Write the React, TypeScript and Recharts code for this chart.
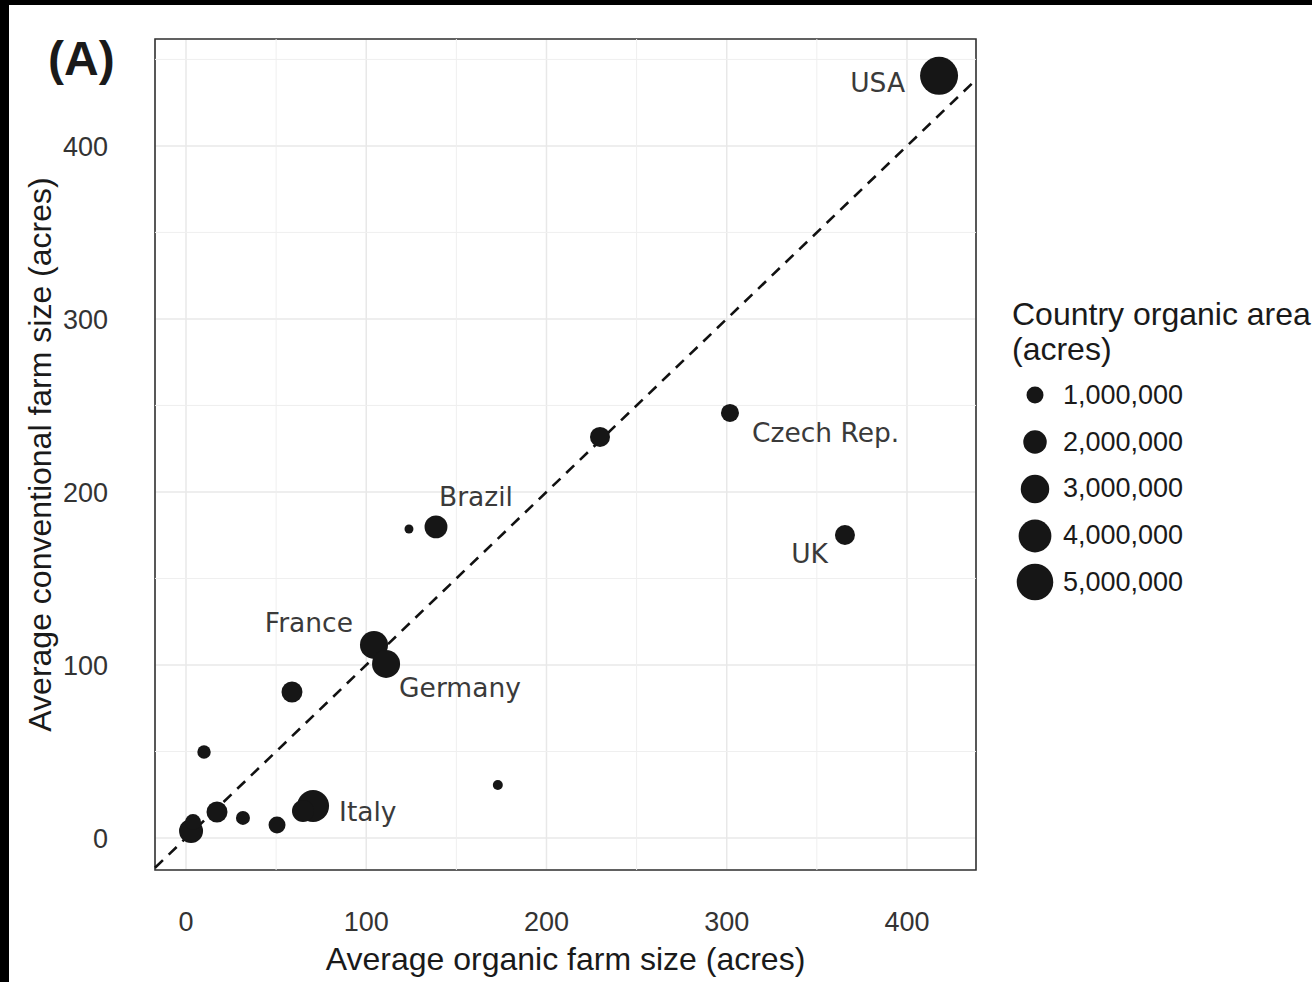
import React from 'react';
import {
  CartesianGrid,
  Legend,
  ReferenceArea,
  ReferenceLine,
  Scatter,
  ScatterChart,
  XAxis,
  YAxis,
  ZAxis
} from 'recharts';

// values
const countries = ['USA', 'Czech Rep.', '', 'UK', 'Brazil', '', 'France', 'Germany', '', '', '', 'Italy', '', '', '', '', '', ''];
const organicSize = [417.8, 301.8, 229.7, 365.6, 138.7, 123.7, 104.3, 111.0, 58.8, 10.0, 173.0, 70.5, 64.9, 17.2, 31.6, 50.5, 2.8, 3.9];
const conventionalSize = [440.5, 245.7, 231.8, 175.1, 179.8, 178.6, 111.6, 100.6, 84.4, 49.7, 30.6, 18.5, 15.6, 15.0, 11.6, 7.5, 4.0, 9.2];
const organicArea = [
  5410000, 1140000, 1430000, 1430000, 1900000, 210000, 2900000, 2900000, 1580000,
  590000, 280000, 3800000, 1750000, 1580000, 650000, 1000000, 2100000, 880000
];

const xTicks = [0, 100, 200, 300, 400];
const yTicks = [0, 100, 200, 300, 400];
const xMinor = [50, 150, 250, 350];
const yMinor = [50, 150, 250, 350, 450];
const legendAreas = [1000000, 2000000, 3000000, 4000000, 5000000];

const X_DOMAIN: [number, number] = [-17.2, 438.3];
const Y_DOMAIN: [number, number] = [-18.5, 461.8];
const Z_DOMAIN: [number, number] = [0, 5500000];
const Z_RANGE: [number, number] = [20, 1153];

const points = organicSize.map((x, i) => ({
  x,
  y: conventionalSize[i],
  area: organicArea[i],
  country: countries[i]
}));

// where each country name sits relative to its point
const labelPlacement: Record<string, { dx: number; dy: number; anchor: 'start' | 'middle' | 'end' }> = {
  USA: { dx: -34, dy: 7, anchor: 'end' },
  'Czech Rep.': { dx: 22, dy: 20, anchor: 'start' },
  UK: { dx: -17, dy: 18, anchor: 'end' },
  Brazil: { dx: 40, dy: -30, anchor: 'middle' },
  France: { dx: -21, dy: -22, anchor: 'end' },
  Germany: { dx: 13, dy: 24, anchor: 'start' },
  Italy: { dx: 26, dy: 6, anchor: 'start' }
};

const diagStart = Math.max(X_DOMAIN[0], Y_DOMAIN[0]);
const diagEnd = Math.min(X_DOMAIN[1], Y_DOMAIN[1]);

const radiusFor = (area: number) => {
  const size = Z_RANGE[0] + ((Z_RANGE[1] - Z_RANGE[0]) * (area - Z_DOMAIN[0])) / (Z_DOMAIN[1] - Z_DOMAIN[0]);
  return Math.sqrt(size / Math.PI);
};

const FarmPoint = (props: any) => {
  const { cx, cy, size, width, payload } = props;
  const r = size != null ? Math.sqrt(size / Math.PI) : width / 2;
  const place = labelPlacement[payload.country];
  return (
    <g>
      <circle cx={cx} cy={cy} r={r} fill="#161616" />
      {place && (
        <text
          x={cx + place.dx}
          y={cy + place.dy}
          textAnchor={place.anchor}
          dominantBaseline="central"
          fill="#3a3a3a"
          fontSize={26.5}
          fontFamily="DejaVu Sans"
        >
          {payload.country}
        </text>
      )}
    </g>
  );
};

const SizeLegend = () => (
  <div style={{ fontFamily: 'Liberation Sans', color: '#1a1a1a' }}>
    <div style={{ fontSize: 32, lineHeight: '35px', whiteSpace: 'nowrap' }}>
      Country organic area
      <br />
      (acres)
    </div>
    <div style={{ marginTop: 5 }}>
      {legendAreas.map((a) => (
        <div key={a} style={{ display: 'flex', alignItems: 'center', height: 46.75 }}>
          <svg width={46} height={46}>
            <circle cx={23} cy={23} r={radiusFor(a)} fill="#161616" />
          </svg>
          <span style={{ fontSize: 27, marginLeft: 5 }}>{a.toLocaleString('en-US')}</span>
        </div>
      ))}
    </div>
  </div>
);

const tickStyle = { fill: '#333', fontSize: 27, fontFamily: 'Liberation Sans' };

export default function App() {
  return (
    <div
      style={{
        position: 'fixed',
        left: 0,
        top: 0,
        width: 1312,
        height: 982,
        background: '#000',
        overflow: 'hidden'
      }}
    >
      <div style={{ position: 'absolute', left: 9, top: 5, width: 1303, height: 977, background: '#fff' }}>
        <div
          style={{
            position: 'absolute',
            left: 39,
            top: 30,
            fontFamily: 'Liberation Sans',
            fontWeight: 'bold',
            fontSize: 48,
            lineHeight: '48px',
            color: '#1a1a1a'
          }}
        >
          (A)
        </div>
        <ScatterChart width={1303} height={977} margin={{ top: 34, right: 336, bottom: 0, left: 0 }}>
          <CartesianGrid stroke="#e8e8e8" strokeWidth={1.5} />
          <XAxis
            type="number"
            dataKey="x"
            domain={X_DOMAIN}
            ticks={xTicks}
            allowDataOverflow
            axisLine={false}
            tickLine={false}
            tickSize={0}
            tickMargin={42}
            height={112}
            tick={tickStyle}
            label={{
              value: 'Average organic farm size (acres)',
              position: 'insideBottom',
              offset: 12,
              style: { fill: '#1a1a1a', fontSize: 32, fontFamily: 'Liberation Sans' }
            }}
          />
          <YAxis
            type="number"
            dataKey="y"
            domain={Y_DOMAIN}
            ticks={yTicks}
            allowDataOverflow
            axisLine={false}
            tickLine={false}
            tickSize={0}
            tickMargin={47}
            width={146}
            tick={tickStyle}
            label={{
              value: 'Average conventional farm size (acres)',
              angle: -90,
              position: 'insideLeft',
              offset: 31,
              style: { fill: '#1a1a1a', fontSize: 32, fontFamily: 'Liberation Sans', textAnchor: 'middle' }
            }}
          />
          <ZAxis type="number" dataKey="area" domain={Z_DOMAIN} range={Z_RANGE} />
          {xMinor.map((v) => (
            <ReferenceLine key={`mx${v}`} x={v} stroke="#efefef" strokeWidth={1} />
          ))}
          {yMinor.map((v) => (
            <ReferenceLine key={`my${v}`} y={v} stroke="#efefef" strokeWidth={1} />
          ))}
          <ReferenceLine
            segment={[
              { x: diagStart, y: diagStart },
              { x: diagEnd, y: diagEnd }
            ]}
            stroke="#111"
            strokeWidth={2.6}
            strokeDasharray="11 8"
          />
          <Scatter data={points} shape={FarmPoint} isAnimationActive={false} />
          <ReferenceArea
            x1={X_DOMAIN[0]}
            x2={X_DOMAIN[1]}
            y1={Y_DOMAIN[0]}
            y2={Y_DOMAIN[1]}
            fill="none"
            fillOpacity={0}
            stroke="#333"
            strokeWidth={1.6}
            ifOverflow="visible"
          />
          <Legend
            layout="vertical"
            align="center"
            verticalAlign="middle"
            content={() => <SizeLegend />}
            wrapperStyle={{ left: 1003, top: 292, width: 330 }}
          />
        </ScatterChart>
      </div>
    </div>
  );
}
